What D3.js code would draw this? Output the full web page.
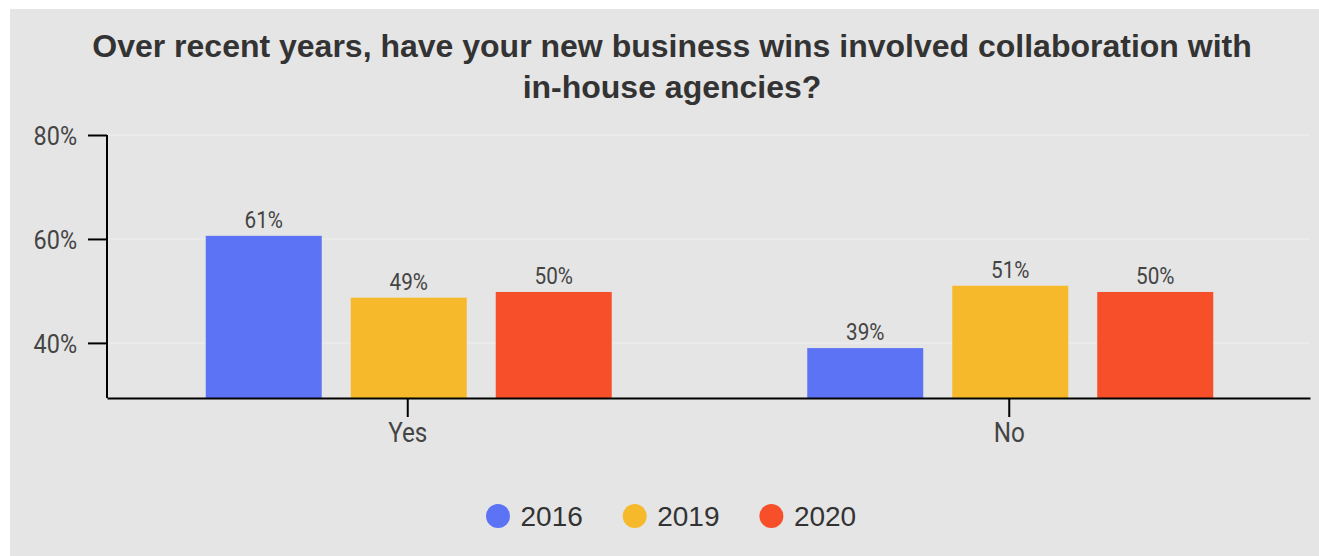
<!DOCTYPE html>
<html>
<head>
<meta charset="utf-8">
<script src="https://cdn.jsdelivr.net/npm/d3@7/dist/d3.min.js"></script>
<style>
  html, body { margin: 0; padding: 0; background: #ffffff; }
  svg { display: block; }
</style>
</head>
<body>
<svg id="chart" width="1319" height="556"></svg>
<script>
// Survey answers by year
const categories = ["Yes", "No"];
const years = ["2016", "2019", "2020"];
const values2016 = [60.6, 39.0];
const values2019 = [48.7, 51.0];
const values2020 = [49.8, 49.8];
const yTicks = [40, 60, 80];
const titleLines = [
  "Over recent years, have your new business wins involved collaboration with",
  "in-house agencies?"
];

const seriesValues = [values2016, values2019, values2020];
const colors = ["#5b73f4", "#f6b92b", "#f74f2a"];

const svg = d3.select("#chart");
const W = 1319, H = 556;
const narrow = 0.9; // horizontal squeeze for the condensed axis/label lettering

// Panel background
svg.append("rect").attr("x", 10).attr("y", 9)
  .attr("width", W - 10).attr("height", H - 9).attr("fill", "#e5e5e5");

const plotLeft = 107, plotRight = 1310, plotTop = 135, plotBottom = 398;

const y = d3.scaleLinear().domain([29.4, 80]).range([plotBottom, plotTop]);
const x0 = d3.scaleBand().domain(categories).range([plotLeft, plotRight]).padding(0);
const x1 = d3.scaleBand().domain(years).range([-202, 204]).paddingInner(0.2).paddingOuter(0);
const color = d3.scaleOrdinal().domain(years).range(colors);

// Title
svg.append("g").selectAll("text").data(titleLines).join("text")
  .attr("x", 672)
  .attr("y", (d, i) => 57 + i * 41)
  .attr("text-anchor", "middle")
  .attr("font-family", "'Liberation Sans', Arial, sans-serif")
  .attr("font-weight", "bold")
  .attr("font-size", 32)
  .attr("fill", "#333333")
  .text(d => d);

// Gridlines
svg.append("g").selectAll("line").data(yTicks).join("line")
  .attr("x1", plotLeft).attr("x2", plotRight)
  .attr("y1", d => y(d)).attr("y2", d => y(d))
  .attr("stroke", "#ebebeb").attr("stroke-width", 1.5);

// Bars
const rows = categories.map((c, i) => ({
  category: c,
  items: years.map((yr, j) => ({ year: yr, value: seriesValues[j][i] }))
}));

const groups = svg.append("g").selectAll("g").data(rows).join("g")
  .attr("transform", d => `translate(${x0(d.category) + x0.bandwidth() / 2},0)`);

groups.selectAll("rect").data(d => d.items).join("rect")
  .attr("x", d => x1(d.year))
  .attr("width", x1.bandwidth())
  .attr("y", d => y(d.value))
  .attr("height", d => plotBottom - y(d.value))
  .attr("fill", d => color(d.year));

// Value labels above bars
groups.selectAll("text").data(d => d.items).join("text")
  .attr("transform", d =>
    `translate(${x1(d.year) + x1.bandwidth() / 2},${y(d.value) - 8}) scale(${narrow},1)`)
  .attr("text-anchor", "middle")
  .attr("font-family", "Roboto, sans-serif")
  .attr("font-size", 23)
  .attr("fill", "#444444")
  .text(d => d3.format(".0f")(d.value) + "%");

// Y axis
const yAxis = svg.append("g").attr("transform", `translate(${plotLeft},0)`)
  .call(d3.axisLeft(y).tickValues(yTicks).tickSize(19).tickSizeOuter(0)
    .tickPadding(11).tickFormat(d => d + "%"));
yAxis.select(".domain").attr("d", `M0,${plotTop}V${plotBottom}`);
yAxis.selectAll("path, line").attr("stroke", "#000").attr("stroke-width", 2);
yAxis.selectAll("text").attr("font-family", "Roboto, sans-serif")
  .attr("font-size", 26).attr("fill", "#444444").attr("dy", "0.36em")
  .attr("x", -30 / narrow)
  .attr("transform", `scale(${narrow},1)`);

// X axis
const xAxis = svg.append("g").attr("transform", `translate(0,${plotBottom})`)
  .call(d3.axisBottom(x0).tickSize(19).tickSizeOuter(0).tickPadding(6));
xAxis.selectAll("path, line").attr("stroke", "#000").attr("stroke-width", 2);
xAxis.selectAll("text").attr("font-family", "Roboto, sans-serif")
  .attr("font-size", 27).attr("fill", "#444444")
  .attr("transform", `scale(${narrow},1)`);

// Legend
const legend = svg.append("g").selectAll("g").data(years).join("g")
  .attr("transform", (d, i) => `translate(${498 + i * 136.7},516)`);
legend.append("circle").attr("r", 12).attr("fill", d => color(d));
legend.append("text")
  .attr("x", 22.5).attr("dy", "0.36em")
  .attr("font-family", "'Liberation Sans', Arial, sans-serif")
  .attr("font-size", 28).attr("fill", "#333333")
  .text(d => d);
</script>
</body>
</html>
